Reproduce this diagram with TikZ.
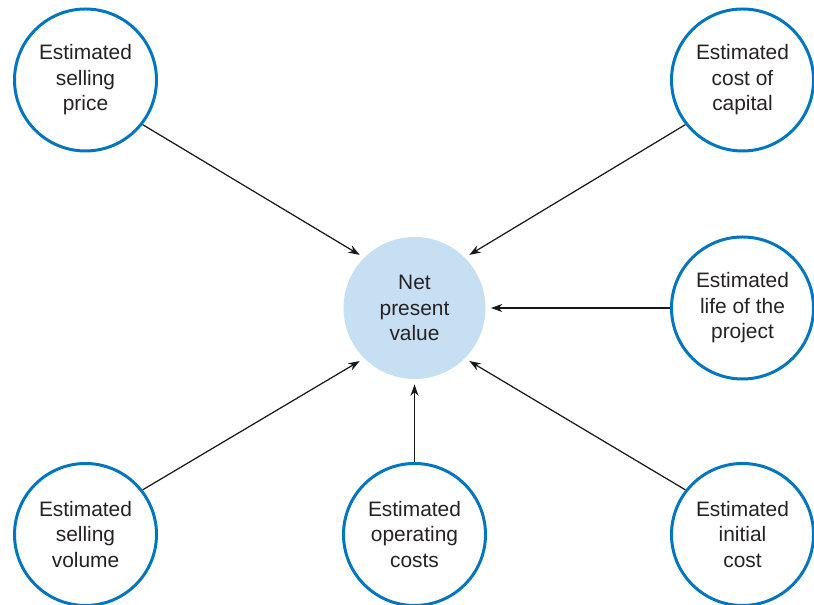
\documentclass[tikz,border=0pt]{standalone}
\usepackage{fontspec}
\setmainfont{Liberation Sans}
\usetikzlibrary{arrows.meta}
\definecolor{ringblue}{RGB}{0,118,192}
\definecolor{npvfill}{RGB}{198,223,242}
\definecolor{txtgray}{RGB}{38,34,35}
\tikzset{
  dgm/.style={font=\fontsize{11.9}{14.5}\selectfont, text=txtgray,
              >={Stealth[length=6.5pt, width=4.6pt]}},
  est/.style={circle, draw=ringblue, line width=1.7pt, fill=white,
              minimum size=2.84cm, inner sep=0pt, align=center},
  npv/.style={circle, fill=npvfill, minimum size=2.84cm,
              inner sep=0pt, align=center},
  ar/.style={->, line width=0.7pt, draw=black!90, shorten >=2.9pt}
}
\begin{document}
\begin{tikzpicture}[dgm]
    \useasboundingbox (0,0) rectangle (16.28,12.10);

    \node[npv] (npv) at (8.29,5.94) {Net\\present\\value};

    \node[est] (price) at (1.71,10.50) {Estimated\\selling\\price};
    \node[est] (capital) at (14.85,10.50) {Estimated\\cost of\\capital};
    \node[est] (life) at (14.85,5.94) {Estimated\\life of the\\project};
    \node[est] (volume) at (1.71,1.41) {Estimated\\selling\\volume};
    \node[est] (opcost) at (8.29,1.41) {Estimated\\operating\\costs};
    \node[est] (initial) at (14.85,1.41) {Estimated\\initial\\cost};

    \draw[ar] (price.-38) -- (npv.135);
    \draw[ar] (capital.218) -- (npv.45);
    \draw[ar] (life.west) -- (npv.east);
    \draw[ar] (volume.38) -- (npv.225);
    \draw[ar] (opcost.north) -- (npv.south);
    \draw[ar] (initial.142) -- (npv.-45);
  \end{tikzpicture}
\end{document}
